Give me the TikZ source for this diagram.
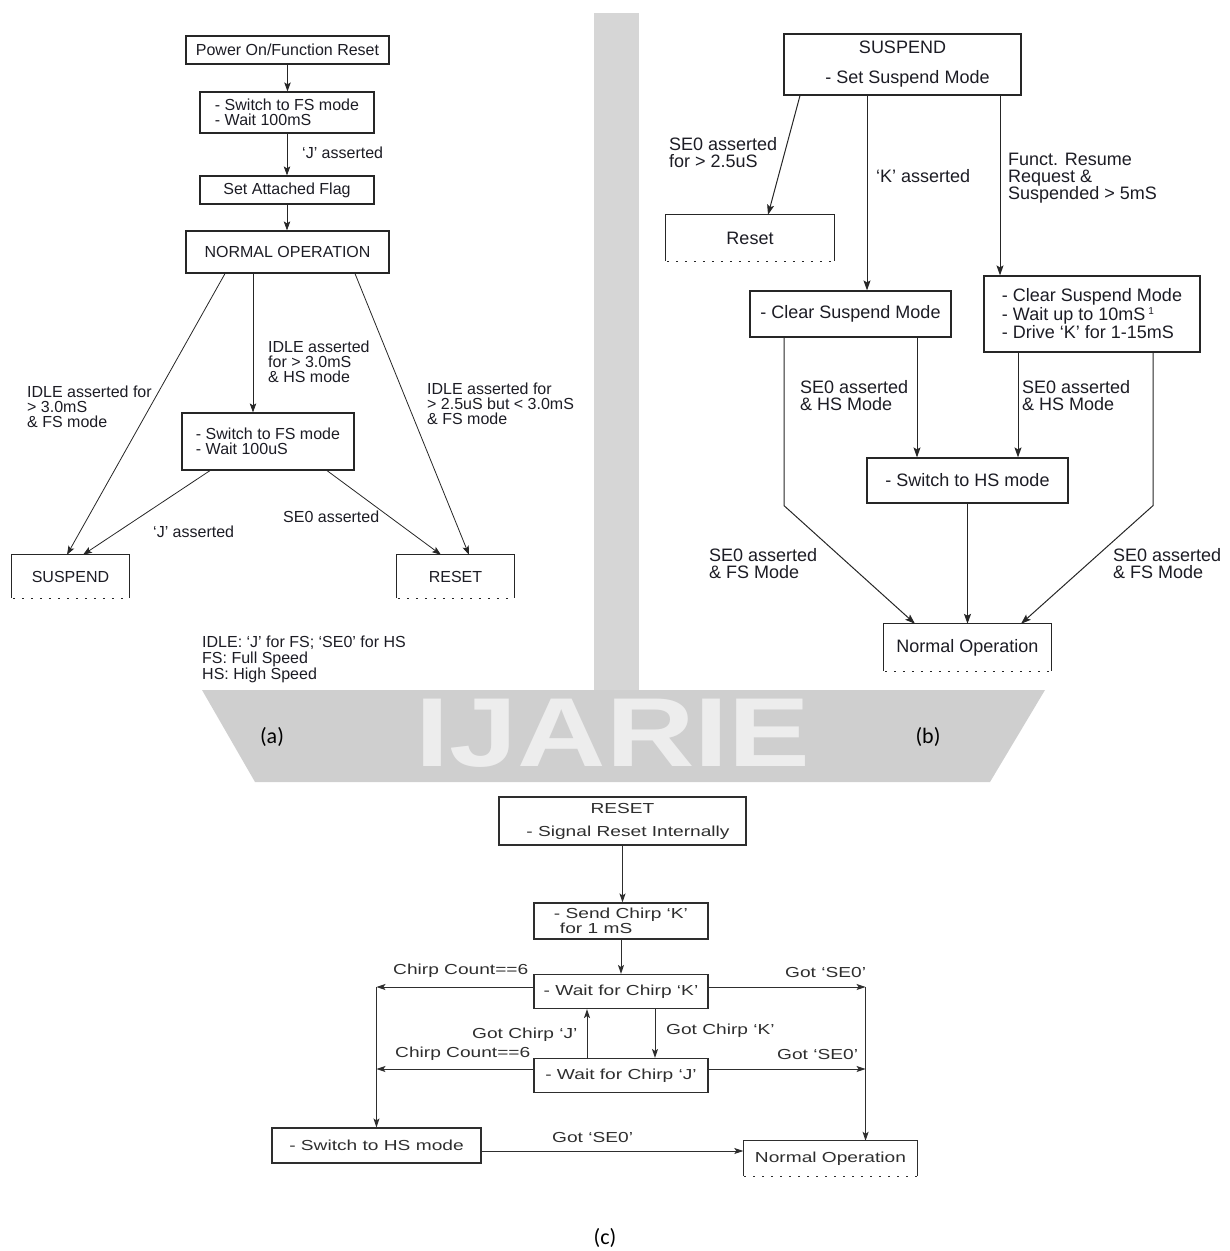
\documentclass[tikz,border=0pt]{standalone}
\usepackage{fontspec}
\setmainfont{Liberation Sans}
\newfontfamily\cfont[FakeStretch=1.32]{Liberation Sans}
\newfontfamily\capfont{Carlito}
\newfontfamily\wmfont[FakeStretch=1.25]{Liberation Sans}
\usetikzlibrary{arrows.meta,calc}
\definecolor{ink}{HTML}{1C1C24}
\definecolor{inkc}{HTML}{2E2E2E}
\definecolor{edge}{HTML}{262626}
\newcommand\myopenbox[2][edge]{%
  \draw[line width=1.2pt,#1] (#2.south west) -- (#2.north west) -- (#2.north east) -- (#2.south east);
  \draw[line width=1.3pt,#1,dash pattern=on 2pt off 7pt] ([xshift=1pt]#2.south west) -- (#2.south east);}
\begin{document}
\begin{tikzpicture}[x=1pt,y=-1pt,
  fa/.style={font=\fontsize{16}{15}\selectfont},
  fb/.style={font=\fontsize{18}{17}\selectfont},
  fc/.style={font=\cfont\fontsize{14.5}{13}\selectfont},
  box/.style={draw=edge,line width=1.2pt,inner sep=0pt,text=ink},
  boxc/.style={draw=inkc,line width=1.1pt,inner sep=0pt,text=inkc},
  obox/.style={inner sep=0pt,text=ink},
  lbl/.style={inner sep=0pt,align=left,text=ink,anchor=west},
  lblc/.style={inner sep=0pt,align=left,text=inkc,anchor=west},
  arr/.style={line width=0.8pt,draw=edge,-{Stealth[length=9pt,width=6.5pt,inset=2pt]}},
  arrb/.style={line width=1pt,draw=edge,-{Stealth[length=10pt,width=7pt,inset=2pt]}},
  arrc/.style={line width=1pt,draw=inkc,-{Stealth[length=9pt,width=6pt,inset=2pt]}},
  captxt/.style={font=\capfont\fontsize{22}{22}\selectfont,inner sep=0pt}
]
\useasboundingbox (0,0) rectangle (1230,1251);
% ---- background watermark ----
\fill[black!16] (594,13) rectangle (639,690);
\fill[black!19] (202,690) -- (1045,690) -- (990,782) -- (255,782) -- cycle;
\node[font=\wmfont\bfseries\fontsize{98}{98}\selectfont,text=white!93!black,inner sep=0pt] (wm) at (613,733) {IJARIE};

% ================= (a) =================
\node[box,fa,minimum width=203pt,minimum height=28pt] (pw) at (287.5,50) {Power On/Function Reset};
\node[box,fa,align=left,minimum width=174pt,minimum height=41pt] (sw1) at (287,112.5) {- Switch to FS mode\\- Wait 100mS};
\node[box,fa,minimum width=174pt,minimum height=28pt] (saf) at (287,190) {Set Attached Flag};
\node[box,fa,minimum width=203pt,minimum height=42pt] (no) at (287.5,252) {NORMAL OPERATION};
\node[box,fa,align=left,minimum width=172pt,minimum height=57pt] (sw2) at (268,441.5) {- Switch to FS mode\\- Wait 100uS};
\node[obox,fa,minimum width=117pt,minimum height=43pt] (susA) at (70.5,576.5) {SUSPEND};
\myopenbox{susA}
\node[obox,fa,minimum width=117pt,minimum height=43pt] (resA) at (455.5,576.5) {RESET};
\myopenbox{resA}

\draw[arr] (pw.south) -- (sw1.north -| pw.south);
\draw[arr] (sw1.south) -- (saf.north);
\draw[arr] (saf.south) -- (no.north -| saf.south);
\draw[arr] ([xshift=-62.5pt]no.south) -- ([xshift=-3.5pt]susA.north);
\draw[arr] ([xshift=-34.5pt]no.south) -- ([xshift=-34.5pt]no.south |- sw2.north);
\draw[arr] ([xshift=67.5pt]no.south) -- ([xshift=13.5pt]resA.north);
\draw[arr] ([xshift=-58pt]sw2.south) -- ([xshift=12.5pt]susA.north);
\draw[arr] ([xshift=59pt]sw2.south) -- ([xshift=-14.5pt]resA.north);

\node[lbl,fa] (la1) at (302,153) {‘J’ asserted};
\node[lbl,fa] (la2) at (27,407) {IDLE asserted for\\> 3.0mS\\\& FS mode};
\node[lbl,fa] (la3) at (268,361.5) {IDLE asserted\\for > 3.0mS\\\& HS mode};
\node[lbl,fa] (la4) at (427,403.5) {IDLE asserted for\\> 2.5uS but < 3.0mS\\\& FS mode};
\node[lbl,fa] (la5) at (153,532) {‘J’ asserted};
\node[lbl,fa] (la6) at (283,517) {SE0 asserted};
\node[lbl,fa,font=\fontsize{16}{16}\selectfont] (leg) at (202,659) {IDLE: ‘J’ for FS; ‘SE0’ for HS\\FS: Full Speed\\HS: High Speed};
\node[captxt] (capa) at (272,737) {(a)};

% ================= (b) =================
\node[box,fb,align=center,minimum width=237pt,minimum height=61pt] (sus) at (902.5,64.5) {SUSPEND\\[13pt]\hspace*{10pt}- Set Suspend Mode};
\node[obox,fb,minimum width=168pt,minimum height=46pt] (rst) at (750,238) {Reset};
\myopenbox{rst}
\node[box,fb,minimum width=201pt,minimum height=46pt] (csm) at (850.5,314) {- Clear Suspend Mode};
\node[box,fb,align=left,minimum width=216pt,minimum height=76pt] (rb) at (1092,314) {- Clear Suspend Mode\\[1.5pt]- Wait up to 10mS\,\raisebox{6pt}{\fontsize{10}{10}\selectfont 1}\\[1.5pt]- Drive ‘K’ for 1-15mS};
\node[box,fb,minimum width=201pt,minimum height=45pt] (shs) at (967.5,480.5) {- Switch to HS mode};
\node[obox,fb,minimum width=167pt,minimum height=47pt] (nop) at (967.5,647.5) {Normal Operation};
\myopenbox{nop}

\draw[arrb] ([xshift=-102.5pt]sus.south) -- ([xshift=18pt]rst.north);
\draw[arrb] ([xshift=-35.5pt]sus.south) -- ([xshift=-35.5pt]sus.south |- csm.north);
\draw[arrb] ([xshift=97.5pt]sus.south) -- ([xshift=97.5pt]sus.south |- rb.north);
\draw[arrb] ([xshift=-66.5pt]csm.south) -- ++(0,168) -- ([xshift=-52.5pt]nop.north);
\draw[arrb] ([xshift=66.5pt]csm.south) -- ([xshift=66.5pt]csm.south |- shs.north);
\draw[arrb] ([xshift=-74pt]rb.south) -- ([xshift=-74pt]rb.south |- shs.north);
\draw[arrb] ([xshift=61pt]rb.south) -- ++(0,153) -- ([xshift=53.5pt]nop.north);
\draw[arrb] (shs.south) -- (shs.south |- nop.north);

\node[lbl,fb] (lb1) at (669,152.5) {SE0 asserted\\for > 2.5uS};
\node[lbl,fb] (lb2) at (876,176) {‘K’ asserted};
\node[lbl,fb] (lb3) at (1008,178) {Funct. Resume\\Request \&\\Suspended > 5mS};
\node[lbl,fb] (lb4) at (800,395.5) {SE0 asserted\\\& HS Mode};
\node[lbl,fb] (lb5) at (1022,395.5) {SE0 asserted\\\& HS Mode};
\node[lbl,fb] (lb6) at (709,564) {SE0 asserted\\\& FS Mode};
\node[lbl,fb] (lb7) at (1113,564) {SE0 asserted\\\& FS Mode};
\node[captxt] (capb) at (928,737) {(b)};

% ================= (c) =================
\node[boxc,fc,align=center,minimum width=247pt,minimum height=48pt] (rs) at (622.5,821) {RESET\\[10pt]\hspace*{11pt}- Signal Reset Internally};
\node[boxc,fc,align=left,minimum width=174pt,minimum height=36pt] (sc) at (621,921) {- Send Chirp ‘K’\\\hspace*{6pt}for 1 mS};
\node[boxc,fc,minimum width=174pt,minimum height=34pt] (wk) at (621,991.5) {- Wait for Chirp ‘K’};
\node[boxc,fc,minimum width=174pt,minimum height=34pt] (wj) at (621,1075.5) {- Wait for Chirp ‘J’};
\node[boxc,fc,minimum width=209pt,minimum height=35pt] (shsC) at (376.5,1145.5) {- Switch to HS mode};
\node[obox,fc,text=inkc,minimum width=174pt,minimum height=35pt] (nopC) at (830.5,1158.5) {Normal Operation};
\myopenbox[inkc]{nopC}

\draw[arrc] (rs.south) -- (rs.south |- sc.north);
\draw[arrc] (sc.south) -- (wk.north);
\draw[arrc] ([yshift=4.5pt]wk.west) -- ++(-157,0) coordinate (cl);
\draw[arrc] ([yshift=4.5pt]wk.east) -- ++(157,0) coordinate (cr);
\draw[arrc] ([yshift=6.5pt]wj.west) -- ([yshift=6.5pt]wj.west -| cl);
\draw[arrc] ([yshift=6.5pt]wj.east) -- ([yshift=6.5pt]wj.east -| cr);
\draw[arrc] (cl) -- (cl |- shsC.north);
\draw[arrc] (cr) -- (cr |- nopC.north);
\draw[arrc] ([xshift=-34pt]wj.north) -- ([xshift=-34pt]wk.south);
\draw[arrc] ([xshift=34pt]wk.south) -- ([xshift=34pt]wj.north);
\draw[arrc] ([yshift=-5.5pt]shsC.east) -- ([yshift=-5.5pt]shsC.east -| nopC.west);

\node[lblc,fc] (lc1) at (393,971) {Chirp Count==6};
\node[lblc,fc] (lc2) at (785,972) {Got ‘SE0’};
\node[lblc,fc] (lc3) at (472,1035) {Got Chirp ‘J’};
\node[lblc,fc] (lc4) at (666,1031) {Got Chirp ‘K’};
\node[lblc,fc] (lc5) at (395,1054) {Chirp Count==6};
\node[lblc,fc] (lc6) at (777,1054) {Got ‘SE0’};
\node[lblc,fc] (lc7) at (552,1137) {Got ‘SE0’};
\node[captxt] (capc) at (605,1238) {(c)};
\end{tikzpicture}
\end{document}
